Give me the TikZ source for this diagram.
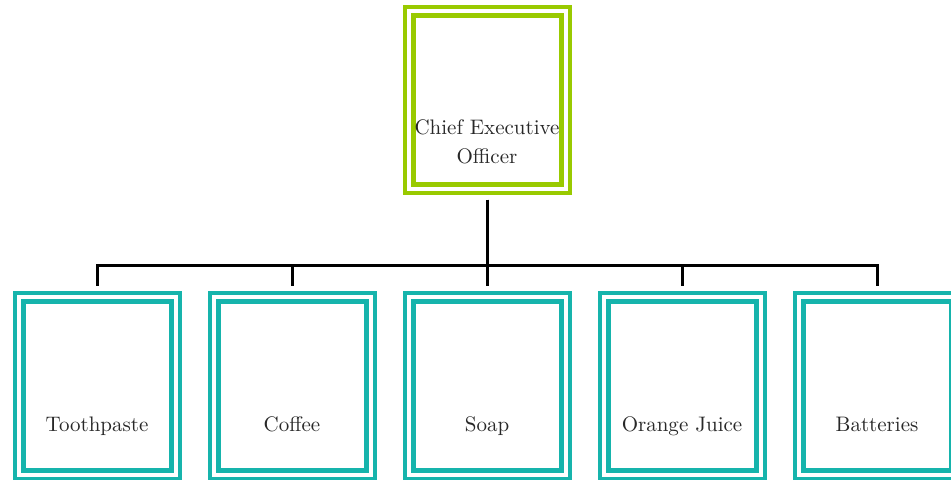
\documentclass[tikz,border=0pt]{standalone}
\usepackage{xcolor}
\usepackage{tikz}
\usetikzlibrary{positioning, fit}
\definecolor{ceogreen}{RGB}{153,202,0}
\definecolor{unitteal}{RGB}{22,180,172}
\definecolor{labelgray}{RGB}{40,40,40}
\tikzset{
	innerbox/.style={draw=#1, line width=2.5pt, minimum width=74pt, minimum height=84.5pt, inner sep=0pt},
	outerframe/.style={draw=#1, line width=2pt, inner sep=3pt, outer sep=3.5pt},
	boxlabel/.style={font=\fontsize{10.5}{14.5}\selectfont, text=labelgray, align=center, inner sep=0pt, text depth=0.25em},
	orgline/.style={line width=1.5pt, black},
}

\begin{document}
\begin{tikzpicture}[x=0.5pt, y=0.5pt]
	\useasboundingbox (0,0) rectangle (951,480);
	% top of the chart
	\node[innerbox=ceogreen] (ceo) at (487,380) {};
	\node[outerframe=ceogreen, fit=(ceo)] (ceo-frame) {};
	\node[boxlabel, above=8.8pt of ceo.south] (ceo-label) {Chief Executive\\Officer};
	\coordinate (bus) at (487,214);
	% product divisions
	\foreach \name/\txt/\x in {toothpaste/Toothpaste/97, coffee/Coffee/292, soap/Soap/487, juice/Orange Juice/682, batteries/Batteries/877} {
		\node[innerbox=unitteal] (\name) at (\x,94.25) {};
		\node[outerframe=unitteal, fit=(\name)] (\name-frame) {};
		\node[boxlabel, above=17.7pt of \name.south] (\name-label) {\txt};
		\draw[orgline] (ceo-frame.south) -- (ceo-frame.south |- bus) -| (\name-frame.north);
	}
\end{tikzpicture}
\end{document}
